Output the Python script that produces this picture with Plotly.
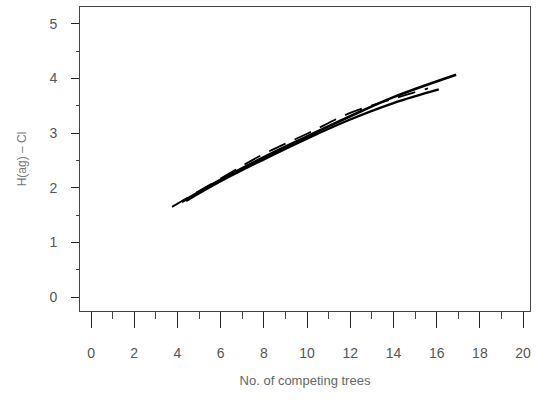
import plotly.graph_objects as go

# Data
curve_a_x = [4.2, 6, 8, 10, 12, 14, 16.9]
curve_a_y = [1.74, 2.15, 2.56, 2.94, 3.31, 3.66, 4.07]

curve_b_x = [4.4, 6, 8, 10, 12, 14, 16.1]
curve_b_y = [1.76, 2.12, 2.52, 2.9, 3.25, 3.55, 3.8]

curve_c_x = [3.75, 6, 8, 10, 12, 14, 15.6]
curve_c_y = [1.65, 2.17, 2.62, 2.99, 3.37, 3.63, 3.82]

x_ticks = [0, 2, 4, 6, 8, 10, 12, 14, 16, 18, 20]
y_ticks = [0, 1, 2, 3, 4, 5]

x_title = "No. of competing trees"
y_title = "H(ag) – Cl"

fig = go.Figure()
fig.add_trace(go.Scatter(x=curve_a_x, y=curve_a_y, mode="lines",
                         line=dict(color="black", width=2.6, shape="spline"), showlegend=False))
fig.add_trace(go.Scatter(x=curve_b_x, y=curve_b_y, mode="lines",
                         line=dict(color="black", width=2.4, shape="spline"), showlegend=False))
fig.add_trace(go.Scatter(x=curve_c_x, y=curve_c_y, mode="lines",
                         line=dict(color="black", width=1.8, shape="spline", dash="18px,10px"), showlegend=False))

font_family = "Liberation Sans, Arial, sans-serif"

fig.update_layout(
    width=543, height=412,
    margin=dict(l=80, r=13, t=7, b=101),
    paper_bgcolor="white", plot_bgcolor="white",
    font=dict(family=font_family, color="#555", size=14),
)
fig.update_xaxes(
    range=[-0.51, 20.32], tickvals=x_ticks, ticks="outside", ticklen=16,
    tickcolor="#222", tickwidth=1, showline=True, linecolor="#444", linewidth=1,
    mirror=True, showgrid=False, zeroline=False, ticklabelstandoff=13,
    minor=dict(dtick=1, tick0=0, ticks="outside", ticklen=7, tickcolor="#444"),
    title=dict(text=x_title, font=dict(size=13, color="#666"), standoff=16),
    tickfont=dict(size=14, color="#555"),
)
fig.update_yaxes(
    range=[-0.256, 5.31], tickvals=y_ticks, ticks="outside", ticklen=8,
    tickcolor="#222", tickwidth=1, showline=True, linecolor="#444", linewidth=1,
    mirror=True, showgrid=False, zeroline=False, ticklabelstandoff=11,
    minor=dict(dtick=0.5, tick0=0, ticks="outside", ticklen=3, tickcolor="#444"),
    title=dict(text=y_title, font=dict(size=12, color="#777"), standoff=20),
    tickfont=dict(size=14, color="#555"),
)

fig.write_html("out.html")
